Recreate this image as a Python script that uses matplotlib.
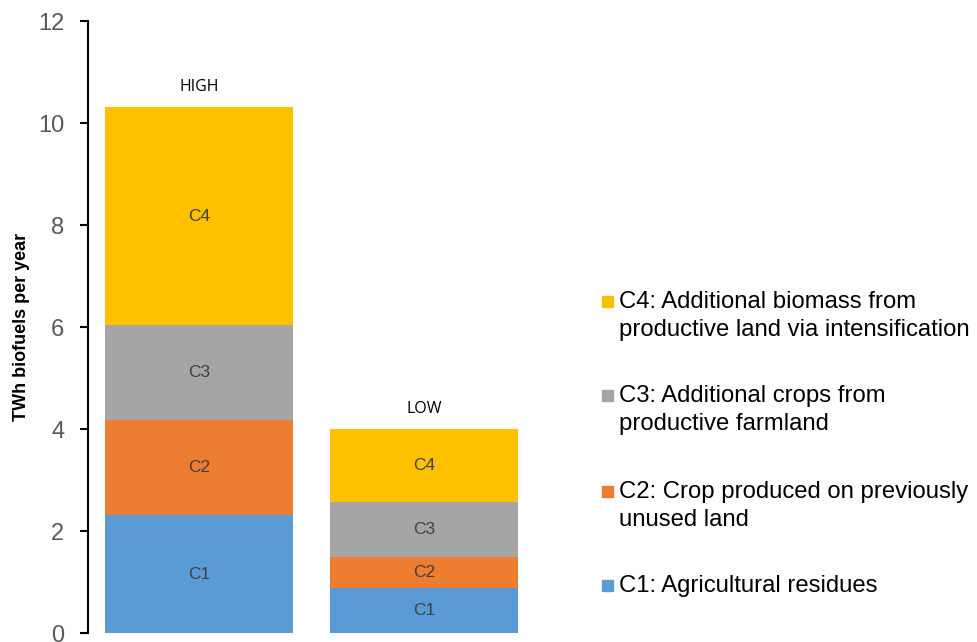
import matplotlib.pyplot as plt
import numpy as np
from matplotlib.patches import Rectangle

plt.rcParams['font.family'] = ['Liberation Sans', 'DejaVu Sans']

scenarios = ['HIGH', 'LOW']
categories = ['C1', 'C2', 'C3', 'C4']
values = {
    'C1': [2.31, 0.89],
    'C2': [1.86, 0.60],
    'C3': [1.87, 1.08],
    'C4': [4.27, 1.43],
}
colors = {'C1': '#5B9BD5', 'C2': '#ED7D31', 'C3': '#A5A5A5', 'C4': '#FFC000'}
legend_labels = {
    'C4': 'C4: Additional biomass from\nproductive land via intensification',
    'C3': 'C3: Additional crops from\nproductive farmland',
    'C2': 'C2: Crop produced on previously\nunused land',
    'C1': 'C1: Agricultural residues',
}

fig = plt.figure(figsize=(9.77, 6.42), dpi=100)
ax = fig.add_axes([0.090, 0.014, 0.459, 0.953])

x = np.arange(len(scenarios))
width = 0.836
bottom = np.zeros(len(scenarios))
for c in categories:
    v = np.array(values[c])
    ax.bar(x, v, width, bottom=bottom, color=colors[c], linewidth=0)
    for xi, b, h in zip(x, bottom, v):
        ax.text(xi, b + h / 2, c, ha='center', va='center', fontsize=12.5, color='#404040')
    bottom += v

for xi, s, tot in zip(x, scenarios, bottom):
    ax.text(xi, tot + 0.24, s, ha='center', va='bottom', fontsize=11.5,
            family=['Open Sans', 'DejaVu Sans'], color='black')

ax.set_xlim(-0.494, 1.5)
ax.set_ylim(0, 12)
ax.set_yticks(np.arange(0, 13, 2))
ax.set_xticks([])
for s in ['top', 'right', 'bottom']:
    ax.spines[s].set_visible(False)
ax.spines['left'].set_linewidth(1.5)
ax.tick_params(axis='y', direction='out', length=6, width=1.5, pad=11,
               labelsize=17, labelcolor='#595959')
ax.set_ylabel('TWh biofuels per year', fontsize=13, fontweight='bold', labelpad=6)

# legend drawn by hand so the swatch lines up with the first text line
leg_y = {'C4': 301, 'C3': 395, 'C2': 491, 'C1': 585}
W, H = 977, 642
for c in ['C4', 'C3', 'C2', 'C1']:
    yc = leg_y[c]
    fig.patches.append(Rectangle((602 / W, 1 - (yc + 5.5) / H), 11 / W, 11 / H,
                                 transform=fig.transFigure, color=colors[c]))
    fig.text(619 / W, 1 - (yc - 10) / H, legend_labels[c], ha='left', va='top',
             fontsize=17.2, color='black', linespacing=1.36)

fig.savefig('out.png', dpi=100)
